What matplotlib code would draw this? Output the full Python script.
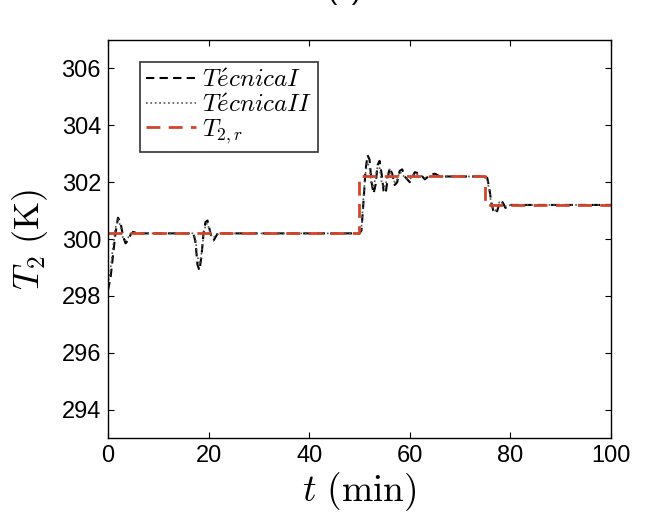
import matplotlib
matplotlib.use("Agg")
import matplotlib.pyplot as plt

plt.rcParams["font.family"] = ["Liberation Sans", "DejaVu Sans"]
plt.rcParams["mathtext.fontset"] = "cm"

# simulation time (min)
t_sim = [0, 0.5, 1.0, 1.5, 2.0, 2.5, 3.0, 3.5, 4.0, 4.5, 5.0, 6.0, 8.0,
         17.0, 17.4, 17.8, 18.2, 18.6, 19.0, 19.4, 19.8, 20.2, 20.6, 21.0, 21.5, 22.0, 23.0, 25.0,
         50.0, 50.4, 50.8, 51.2, 51.6, 52.0, 52.4, 52.8, 53.2, 53.6, 54.0, 54.4, 54.8, 55.2, 55.6,
         56.0, 56.5, 57.0, 57.5, 58.0, 58.5, 59.0, 60.0, 61.0, 62.0, 63.0, 64.0, 65.0, 66.0, 68.0,
         75.0, 75.4, 75.8, 76.2, 76.6, 77.0, 77.4, 77.8, 78.2, 78.6, 79.0, 79.5, 80.0, 81.0, 83.0,
         100.0]

# T2 for Tecnica I (K)
T2_tec1 = [298.2, 298.6, 299.4, 300.2, 300.75, 300.6, 300.1, 299.85, 299.95, 300.15, 300.25, 300.2, 300.2,
           300.2, 299.9, 299.1, 298.9, 299.4, 300.2, 300.6, 300.65, 300.35, 300.05, 299.95, 300.1, 300.25, 300.2, 300.2,
           300.2, 300.3, 301.3, 302.4, 302.95, 302.8, 302.0, 301.6, 301.9, 302.6, 302.75, 302.3, 301.7, 301.6, 302.1,
           302.5, 302.3, 301.9, 302.0, 302.4, 302.45, 302.2, 302.0, 302.35, 302.3, 302.1, 302.25, 302.3, 302.2, 302.2,
           302.2, 302.15, 301.8, 301.3, 301.0, 300.9, 301.0, 301.25, 301.35, 301.25, 301.1, 301.1, 301.2, 301.2, 301.2,
           301.2]

# T2 for Tecnica II (K)
T2_tec2 = [298.4, 298.9, 299.7, 300.4, 300.7, 300.45, 300.05, 299.95, 300.05, 300.2, 300.2, 300.2, 300.2,
           300.2, 300.0, 299.4, 299.1, 299.5, 300.1, 300.5, 300.55, 300.3, 300.1, 300.05, 300.15, 300.2, 300.2, 300.2,
           300.2, 300.4, 301.5, 302.3, 302.7, 302.5, 301.9, 301.8, 302.2, 302.55, 302.5, 302.0, 301.8, 301.9, 302.3,
           302.45, 302.2, 302.0, 302.1, 302.35, 302.3, 302.15, 302.1, 302.3, 302.25, 302.15, 302.2, 302.25, 302.2, 302.2,
           302.2, 302.1, 301.7, 301.25, 301.05, 301.0, 301.1, 301.3, 301.3, 301.2, 301.15, 301.15, 301.2, 301.2, 301.2,
           301.2]

# reference trajectory
t_ref = [0, 50, 75, 100]
T2_ref = [300.2, 302.2, 301.2, 301.2]

fig = plt.figure(figsize=(6.5, 5.26), dpi=100)
ax = fig.add_axes([0.166, 0.167, 0.774, 0.757])

ax.plot(t_sim, T2_tec1, color="black", linestyle=(0, (4, 2.5)), linewidth=1.5,
        label=r"$T\acute{e}cnicaI$")
ax.plot(t_sim, T2_tec2, color="#555555", linestyle=":", linewidth=1.2,
        label=r"$T\acute{e}cnicaII$")
ax.plot(t_ref, T2_ref, color="#d2452b", linestyle=(0, (5, 3)), linewidth=2.0,
        drawstyle="steps-post", label=r"$T_{2,r}$")

ax.set_xlim(0, 100)
ax.set_ylim(293, 307)
ax.set_xticks([0, 20, 40, 60, 80, 100])
ax.set_yticks([294, 296, 298, 300, 302, 304, 306])
ax.tick_params(direction="in", top=True, right=True, labelsize=17, length=4, pad=5)
for s in ax.spines.values():
    s.set_linewidth(1.0)

ax.set_xlabel(r"$t\ \mathrm{(min)}$", fontsize=27, labelpad=2)
ax.set_ylabel(r"$T_2\ \mathrm{(K)}$", fontsize=26, labelpad=8)

leg = ax.legend(loc="upper left", bbox_to_anchor=(0.063, 0.945), borderaxespad=0,
                fontsize=18, frameon=True, fancybox=False, handlelength=2.0,
                handletextpad=0.25, labelspacing=0.02, borderpad=0.25)
leg.get_frame().set_edgecolor("black")
leg.get_frame().set_linewidth(1.2)

fig.text(0.53, 1 - 5 / 526, "(b)", fontsize=20, ha="center", va="bottom")

fig.savefig("out.png", dpi=100)
